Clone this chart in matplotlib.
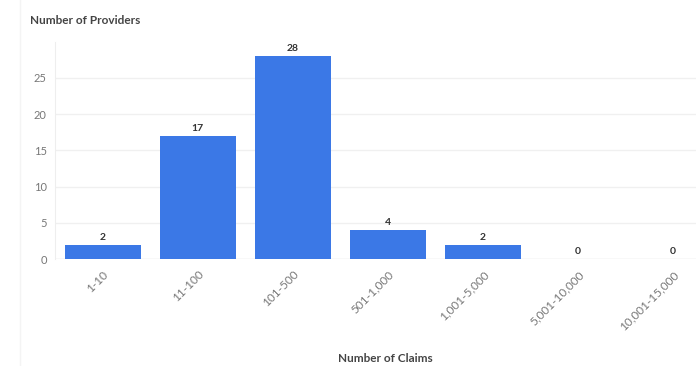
import matplotlib.pyplot as plt
from matplotlib.lines import Line2D

# claims buckets and provider counts
claim_ranges = ['1-10', '11-100', '101-500', '501-1,000', '1,001-5,000',
                '5,001-10,000', '10,001-15,000']
providers = [2, 17, 28, 4, 2, 0, 0]
y_ticks = [0, 5, 10, 15, 20, 25]

bar_color = '#3b78e6'
plt.rcParams['font.family'] = ['Lato', 'DejaVu Sans']

fig = plt.figure(figsize=(6.96, 3.66), dpi=100)
ax = fig.add_axes([55/696, (366-259)/366, (696-55)/696, (259-42)/366])

x = range(len(claim_ranges))
bars = ax.bar(x, providers, width=0.8, color=bar_color, zorder=3)

for xi, v in zip(x, providers):
    ax.text(xi, v + 0.4, str(v), ha='center', va='bottom', fontsize=7.5,
            fontweight='bold', color='#333333', zorder=4)

ax.set_xlim(-0.5, 6.24)
ax.set_ylim(0, (259-42)/7.24)
ax.set_yticks(y_ticks)
ax.set_yticklabels([str(t) for t in y_ticks], fontsize=8, color='#777777')
ax.set_xticks(list(x))
ax.set_xticklabels(claim_ranges, rotation=45, ha='right', rotation_mode='anchor',
                   fontsize=8.5, color='#777777')
ax.tick_params(axis='both', length=0, pad=6)
ax.tick_params(axis='x', pad=7)

ax.grid(axis='y', color='#f0f0f0', linewidth=1, zorder=0)
ax.axhline(0, color='#e6e6e6', linewidth=1, zorder=1)
for s in ['top', 'right', 'bottom']:
    ax.spines[s].set_visible(False)
ax.spines['left'].set_color('#eeeeee')

ax.set_xlabel('Number of Claims', fontsize=8.5, fontweight='bold', color='#444444')
ax.xaxis.set_label_coords((385-55)/(696-55), -(353-259)/(259-42))

fig.text(30/696, 1 - 20/366, 'Number of Providers', fontsize=8.5, fontweight='bold',
         color='#444444', ha='left', va='center')

# faint container edge
fig.add_artist(Line2D([20/696, 20/696], [0, 1], color='#f4f4f4', linewidth=1))

fig.savefig('out.png', dpi=100)
